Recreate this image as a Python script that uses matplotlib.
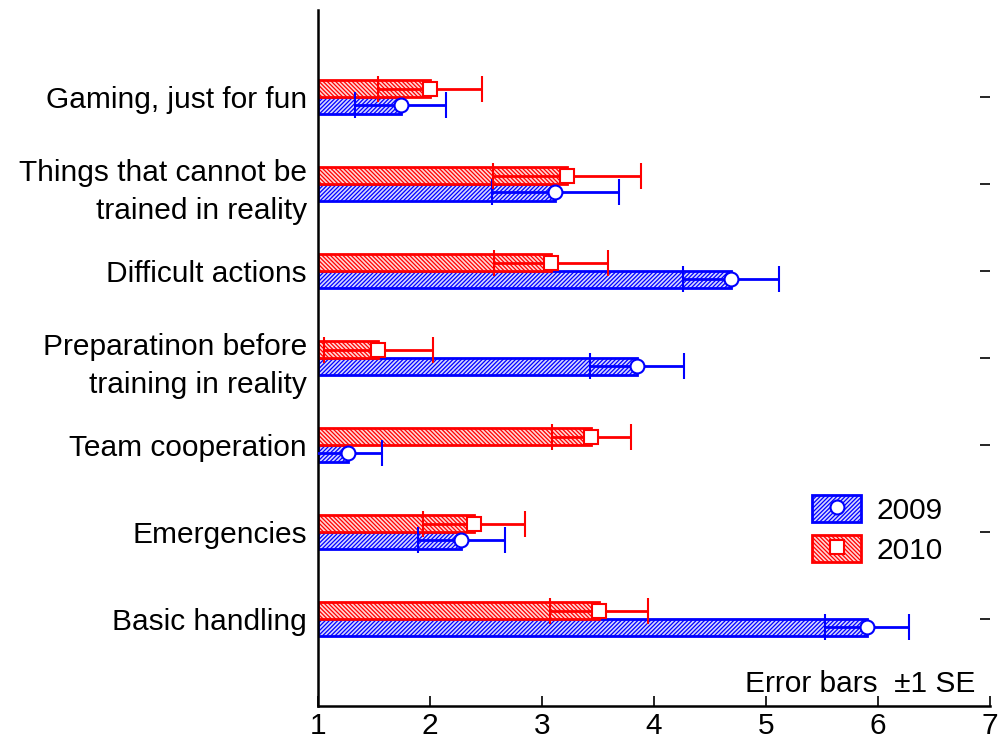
import numpy as np
import matplotlib.pyplot as plt
from matplotlib.patches import Patch
from matplotlib.lines import Line2D

plt.rcParams['font.family'] = ['Liberation Sans', 'DejaVu Sans']
plt.rcParams['hatch.linewidth'] = 0.9

# categories, bottom to top
categories = ["Basic handling", "Emergencies", "Team cooperation",
              "Preparatinon before\ntraining in reality", "Difficult actions",
              "Things that cannot be\ntrained in reality", "Gaming, just for fun"]

# means and standard errors
mean_2009 = [5.90, 2.28, 1.27, 3.85, 4.69, 3.12, 1.74]
se_2009 = [0.375, 0.39, 0.30, 0.42, 0.43, 0.57, 0.405]
mean_2010 = [3.51, 2.39, 3.44, 1.54, 3.08, 3.22, 2.00]
se_2010 = [0.44, 0.455, 0.355, 0.49, 0.505, 0.66, 0.465]

blue = '#0000ff'
red = '#ff0000'
blue_fill = '#d6d6ff'
red_fill = '#ffd6d6'
base = 1.0
h = 0.19
fs = 21.5

fig = plt.figure(figsize=(9.98, 7.46), dpi=100)
ax = fig.add_axes([0.3186, 0.0536, 0.6734, 0.933])

y = np.arange(len(categories))

# bars start at x = 1 (the axis origin)
ax.barh(y - h / 2, np.array(mean_2009) - base, left=base, height=h,
        facecolor=blue_fill, edgecolor=blue, hatch='////////', linewidth=2, zorder=2)
ax.barh(y + h / 2, np.array(mean_2010) - base, left=base, height=h,
        facecolor=red_fill, edgecolor=red, hatch='\\\\\\\\\\\\\\\\', linewidth=2, zorder=2)

ax.errorbar(mean_2009, y - h / 2, xerr=se_2009, fmt='o', color=blue,
            mfc='white', mec=blue, ms=10, mew=1.5, elinewidth=2, capsize=9.5,
            capthick=2, zorder=4)
ax.errorbar(mean_2010, y + h / 2, xerr=se_2010, fmt='s', color=red,
            mfc='white', mec=red, ms=10, mew=1.5, elinewidth=2, capsize=9.5,
            capthick=2, zorder=4)

ax.set_xlim(1, 7)
ax.set_ylim(-1, 7)
ax.set_xticks(range(1, 8))
ax.set_yticks(y)
ax.set_yticklabels(categories, ha='right', multialignment='right', linespacing=1.45)
ax.tick_params(axis='both', labelsize=fs, direction='in', length=7, width=1.2)
ax.tick_params(axis='y', right=True, pad=8)
ax.tick_params(axis='x', pad=4)

for s in ['top', 'right']:
    ax.spines[s].set_visible(False)
for s in ['left', 'bottom']:
    ax.spines[s].set_linewidth(1.8)

h2009 = (Patch(facecolor=blue_fill, edgecolor=blue, hatch='////////', linewidth=2),
         Line2D([], [], marker='o', ls='none', mfc='white', mec=blue, ms=10, mew=1.5))
h2010 = (Patch(facecolor=red_fill, edgecolor=red, hatch='\\\\\\\\\\\\\\\\', linewidth=2),
         Line2D([], [], marker='s', ls='none', mfc='white', mec=red, ms=10, mew=1.5))
ax.legend([h2009, h2010], ['2009', '2010'], loc='lower right',
          bbox_to_anchor=(0.947, 0.186), borderaxespad=0, frameon=False,
          fontsize=fs, handlelength=1.65, handleheight=1.0, handletextpad=0.5,
          labelspacing=0.35)

ax.text(0.978, 0.02, 'Error bars  \u00b11 SE', transform=ax.transAxes,
        ha='right', va='baseline', fontsize=fs)

fig.savefig('out.png', dpi=100)
